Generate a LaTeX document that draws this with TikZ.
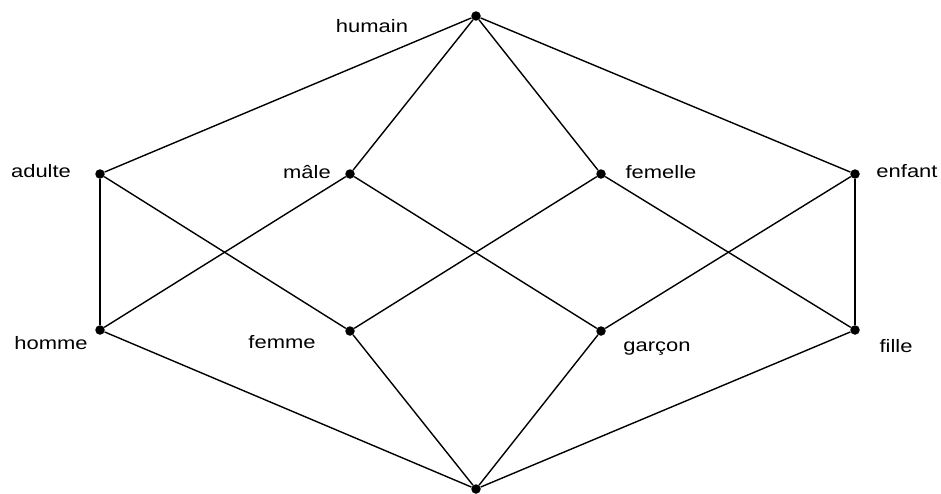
\documentclass[tikz,border=0pt]{standalone}
\usepackage{fontspec}
\setmainfont[FakeStretch=1.22]{Liberation Sans}
\begin{document}
\begin{tikzpicture}[x=1pt,y=-1pt,
  vtx/.style={circle,fill=black,inner sep=0pt,minimum size=9.5pt},
  lbl/.style={inner sep=0pt,font=\fontsize{18}{20}\selectfont},
  edge/.style={line width=1.4pt}]
\useasboundingbox (0,0) rectangle (941,493);
\node[vtx] (hu) at (476,16) {};
\node[vtx] (ad) at (100,174) {};
\node[vtx] (ma) at (350,174) {};
\node[vtx] (fe) at (601,174) {};
\node[vtx] (en) at (855,174) {};
\node[vtx] (ho) at (100,330) {};
\node[vtx] (fm) at (350,331) {};
\node[vtx] (ga) at (601,331) {};
\node[vtx] (fi) at (855,330) {};
\node[vtx] (bo) at (476,489) {};
\node[lbl] (lhu) at (372,26) {humain};
\node[lbl] (lad) at (41,171) {adulte};
\node[lbl] (lma) at (307,172) {mâle};
\node[lbl] (lfe) at (661,172) {femelle};
\node[lbl] (len) at (907,171) {enfant};
\node[lbl] (lho) at (51,343) {homme};
\node[lbl] (lfm) at (282,342) {femme};
\node[lbl] (lga) at (657,349) {garçon};
\node[lbl] (lfi) at (896,346) {fille};
\draw[edge] (hu) -- (ad);
\draw[edge] (hu) -- (ma);
\draw[edge] (hu) -- (fe);
\draw[edge] (hu) -- (en);
\draw[edge] (ad) -- (ho);
\draw[edge] (ad) -- (fm);
\draw[edge] (ma) -- (ho);
\draw[edge] (ma) -- (ga);
\draw[edge] (fe) -- (fm);
\draw[edge] (fe) -- (fi);
\draw[edge] (en) -- (ga);
\draw[edge] (en) -- (fi);
\draw[edge] (bo) -- (ho);
\draw[edge] (bo) -- (fm);
\draw[edge] (bo) -- (ga);
\draw[edge] (bo) -- (fi);
\end{tikzpicture}
\end{document}
